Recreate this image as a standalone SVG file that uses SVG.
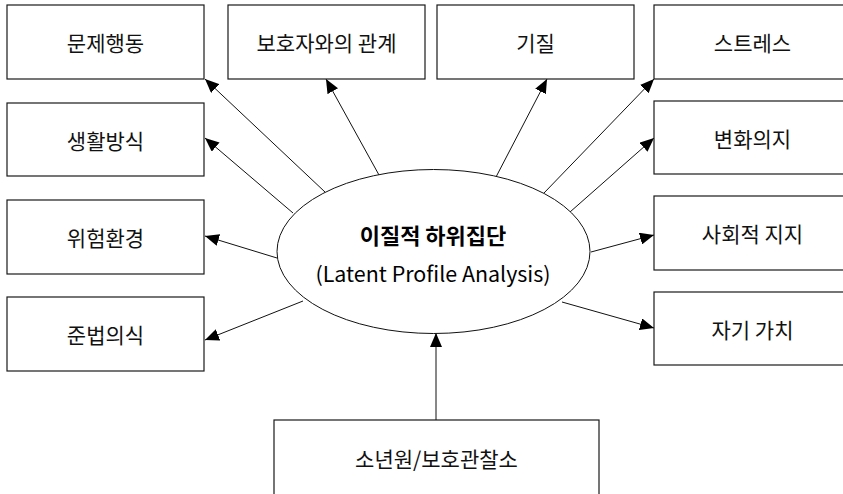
<svg xmlns="http://www.w3.org/2000/svg" width="843" height="494" viewBox="0 0 843 494">
  <style>
    .box { fill: #ffffff; stroke: #1a1a1a; stroke-width: 1.2; }
    .lbl { font-family: "Noto Sans CJK KR", "Noto Sans", sans-serif; font-size: 21px; fill: #111111; text-anchor: middle; dominant-baseline: central; }
    .title { font-family: "Noto Sans CJK KR", "Noto Sans", sans-serif; font-size: 22px; font-weight: bold; fill: #000000; text-anchor: middle; dominant-baseline: central; }
    .sub { font-family: "Noto Sans CJK KR", "Noto Sans", sans-serif; font-size: 21px; fill: #000000; text-anchor: middle; dominant-baseline: central; }
    .edge { stroke: #111111; stroke-width: 1; fill: none; marker-end: url(#arrow); }
  </style>
  <defs>
    <marker id="arrow" markerUnits="userSpaceOnUse" markerWidth="14" markerHeight="12" viewBox="0 0 14 12" refX="14" refY="6" orient="auto">
      <path d="M0,0 L14,6 L0,12 Z" fill="#000000"/>
    </marker>
  </defs>
  <rect width="843" height="494" fill="#ffffff"/>

  <g id="connectors">
    <line class="edge" x1="325" y1="192" x2="205" y2="79"/>
    <line class="edge" x1="293" y1="213" x2="205" y2="138"/>
    <line class="edge" x1="379" y1="175" x2="326" y2="79"/>
    <line class="edge" x1="496" y1="177" x2="547" y2="79"/>
    <line class="edge" x1="544" y1="193" x2="654" y2="79"/>
    <line class="edge" x1="570" y1="212" x2="654" y2="138"/>
    <line class="edge" x1="277" y1="258" x2="205" y2="236"/>
    <line class="edge" x1="303" y1="301" x2="205" y2="340"/>
    <line class="edge" x1="591" y1="252" x2="654" y2="235"/>
    <line class="edge" x1="562" y1="302" x2="654" y2="328"/>
    <line class="edge" x1="436" y1="420" x2="436" y2="333"/>
  </g>

  <g id="center">
    <ellipse cx="433.5" cy="251.5" rx="156.5" ry="82" fill="#ffffff" stroke="#111111" stroke-width="1"/>
    <text class="title" x="433" y="234">이질적 하위집단</text>
    <text class="sub" x="433" y="273" textLength="235" lengthAdjust="spacingAndGlyphs">(Latent Profile Analysis)</text>
  </g>

  <g id="problem-behavior">
    <rect class="box" x="7" y="5" width="197" height="74"/>
    <text class="lbl" x="105.5" y="42">문제행동</text>
  </g>
  <g id="guardian-relation">
    <rect class="box" x="228" y="5" width="197" height="74"/>
    <text class="lbl" x="326.5" y="42">보호자와의 관계</text>
  </g>
  <g id="temperament">
    <rect class="box" x="437" y="5" width="197" height="74"/>
    <text class="lbl" x="535.5" y="42">기질</text>
  </g>
  <g id="stress">
    <rect class="box" x="654" y="5" width="197" height="74"/>
    <text class="lbl" x="752.5" y="42">스트레스</text>
  </g>
  <g id="lifestyle">
    <rect class="box" x="7" y="103" width="197" height="73"/>
    <text class="lbl" x="105.5" y="139.5">생활방식</text>
  </g>
  <g id="will-to-change">
    <rect class="box" x="654" y="101" width="197" height="73"/>
    <text class="lbl" x="752.5" y="137.5">변화의지</text>
  </g>
  <g id="risk-environment">
    <rect class="box" x="7" y="200" width="197" height="74"/>
    <text class="lbl" x="105.5" y="237">위험환경</text>
  </g>
  <g id="social-support">
    <rect class="box" x="654" y="196" width="197" height="74"/>
    <text class="lbl" x="752.5" y="233">사회적 지지</text>
  </g>
  <g id="law-abiding">
    <rect class="box" x="7" y="297" width="197" height="74"/>
    <text class="lbl" x="105.5" y="334">준법의식</text>
  </g>
  <g id="self-worth">
    <rect class="box" x="654" y="292" width="197" height="73"/>
    <text class="lbl" x="752.5" y="328.5">자기 가치</text>
  </g>
  <g id="facility">
    <rect class="box" x="274" y="420" width="325" height="90"/>
    <text class="lbl" x="436.5" y="458">소년원/보호관찰소</text>
  </g>
</svg>
